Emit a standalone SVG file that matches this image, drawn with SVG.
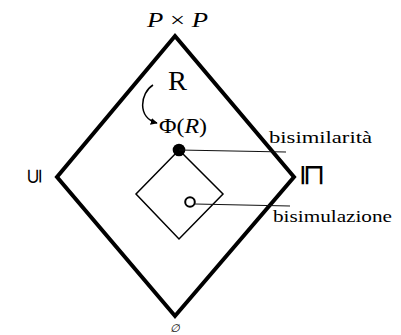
<svg xmlns="http://www.w3.org/2000/svg" width="401" height="335" viewBox="0 0 401 335">
<style>
.t{font-family:'Liberation Serif',serif;fill:#000}
.sym{font-family:'DejaVu Sans',sans-serif;font-weight:200;fill:#000}
.big{fill:none;stroke:#000;stroke-width:4;stroke-linejoin:miter}
.small{fill:none;stroke:#000;stroke-width:1.5}
.lead{fill:none;stroke:#111;stroke-width:1.2}
</style>
<defs>
<marker id="ah" viewBox="0 0 10 10" refX="9" refY="5" markerWidth="7" markerHeight="7" orient="auto" markerUnits="userSpaceOnUse">
<path d="M0,0 L10,5 L0,10 z" fill="#000"/>
</marker>
</defs>
<g id="lattice">
<polygon class="big" points="175,36 294,177 175,316 57,177"/>
</g>
<g id="inner">
<polygon class="small" points="179,150 223,194 179,239 136,194"/>
</g>
<g id="top-label"><text class="t" x="147" y="27" font-size="20" textLength="61" lengthAdjust="spacingAndGlyphs"><tspan font-style="italic">P</tspan> × <tspan font-style="italic">P</tspan></text></g>
<g id="bottom-label"><text class="t" x="175" y="332" font-size="11" text-anchor="middle" font-style="italic" font-family="'DejaVu Serif',serif">∅</text></g>
<g id="R"><text class="t" x="168" y="90" font-size="27" textLength="19" lengthAdjust="spacingAndGlyphs">R</text></g>
<g id="PhiR"><text class="t" x="159" y="133" font-size="20" textLength="48" lengthAdjust="spacingAndGlyphs">Φ(<tspan font-style="italic">R</tspan>)</text></g>
<g id="left-sym"><text class="sym" font-size="21" text-anchor="middle" dominant-baseline="central" transform="translate(34,176) rotate(-90)">⊆</text></g>
<g id="right-sym"><text class="sym" font-size="29" text-anchor="middle" dominant-baseline="central" transform="translate(314,175) rotate(90)">⊑</text></g>
<g id="bisimilarita">
<circle cx="179" cy="150" r="6.3" fill="#000"/>
<text class="t" x="269" y="143" font-size="17" textLength="103" lengthAdjust="spacingAndGlyphs">bisimilarità</text>
</g>
<g id="bisimulazione">
<circle cx="190" cy="202" r="4.8" fill="#fff" stroke="#000" stroke-width="2"/>
<text class="t" x="273" y="222" font-size="17" textLength="119" lengthAdjust="spacingAndGlyphs">bisimulazione</text>
</g>
<g id="connectors">
<path class="lead" d="M179,150 L286,152"/>
<path class="lead" d="M195,204 L290,206"/>
<path fill="none" stroke="#000" stroke-width="1.5" d="M153,85 C140,93 137,118 157,123" marker-end="url(#ah)"/>
</g>
</svg>
